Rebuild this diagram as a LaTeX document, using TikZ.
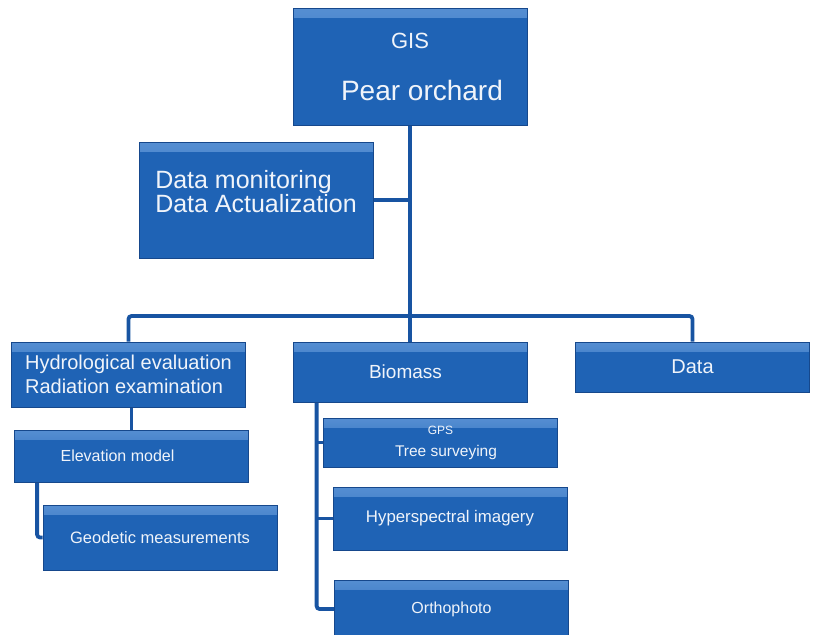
\documentclass[tikz,border=0pt]{standalone}
\usepackage{fontspec}
\setmainfont{Liberation Sans}
\usepackage{tikz}
\usetikzlibrary{calc,backgrounds}

\definecolor{boxblue}{RGB}{31,99,181}
\definecolor{boxhi}{RGB}{85,142,210}
\definecolor{boxedge}{RGB}{22,72,140}
\definecolor{lineblue}{RGB}{24,84,162}
\definecolor{boxtext}{RGB}{240,244,250}

\begin{document}
\begin{tikzpicture}[
    x=1pt, y=-1pt,
    blk/.style={draw=boxedge, line width=0.8pt, fill=boxblue,
        minimum width=234pt, inner sep=0pt, text=boxtext,
        path picture={\shade[top color=boxhi, bottom color=boxblue]
            (path picture bounding box.north west) rectangle
            ([yshift=-9pt]path picture bounding box.north east);}},
    conn/.style={draw=lineblue, line width=3.8pt, rounded corners=3pt},
    every node/.style={font=\fontsize{16}{20}\selectfont}
    ]

    \useasboundingbox (0,0) rectangle (815,635);

    % top
    \node[blk, minimum height=117pt, align=center,
        font=\fontsize{28}{32}\selectfont] (gis) at (410,66.5)
        {{\fontsize{22}{26}\selectfont GIS}\\[20pt]\hspace*{24pt}Pear orchard};
    \node[blk, minimum height=116pt, align=left,
        font=\fontsize{25}{24}\selectfont] (monitor) at (256,200)
        {Data monitoring\\Data Actualization\\[-6pt]~};

    % second level
    \node[blk, minimum height=65pt, align=left,
        font=\fontsize{20}{24}\selectfont] (hydro) at (128.5,374.5)
        {Hydrological evaluation\\Radiation examination};
    \node[blk, minimum height=60pt, font=\fontsize{19}{24}\selectfont]
        (biomass) at (410,372) {Biomass\hspace*{9pt}};
    \node[blk, minimum height=50pt, font=\fontsize{20}{24}\selectfont]
        (data) at (692.5,367) {Data};

    % left branch
    \node[blk, minimum height=52pt] (elev) at (131.5,456)
        {Elevation model\hspace*{28pt}};
    \node[blk, minimum height=65pt, font=\fontsize{16.5}{20}\selectfont]
        (geod) at (160,537.5) {Geodetic measurements};

    % biomass branch
    \node[blk, minimum height=49pt, align=center,
        font=\fontsize{15.5}{22}\selectfont] (gps) at (440.5,442.5)
        {{\fontsize{12}{13}\selectfont GPS}\\\hspace*{11pt}Tree surveying};
    \node[blk, minimum height=63pt, font=\fontsize{16.8}{20}\selectfont]
        (hyper) at (450,518.5) {Hyperspectral imagery};
    \node[blk, minimum height=58pt] (ortho) at (451.5,609)
        {Orthophoto};

    % connectors
    \coordinate (bus) at (410,316);
    \coordinate (spine) at ([xshift=24pt]biomass.south west);
    \coordinate (fork) at ([xshift=23pt]elev.south west);

    \begin{scope}[on background layer]
    \draw[conn] (gis.south) -- (biomass.north);
    \draw[conn] (monitor.east) -- (monitor.east -| gis.south);
    \draw[conn] (hydro.north) |- (bus) -| (data.north);
    \draw[conn] (hydro.south -| elev.north) -- (elev.north);
    \draw[conn] (fork) |- (geod.west);
    \draw[conn] (spine) |- (ortho.west);
    \draw[conn] (spine |- gps.west) -- (gps.west);
    \draw[conn] (spine |- hyper.west) -- (hyper.west);
    \end{scope}

\end{tikzpicture}
\end{document}
